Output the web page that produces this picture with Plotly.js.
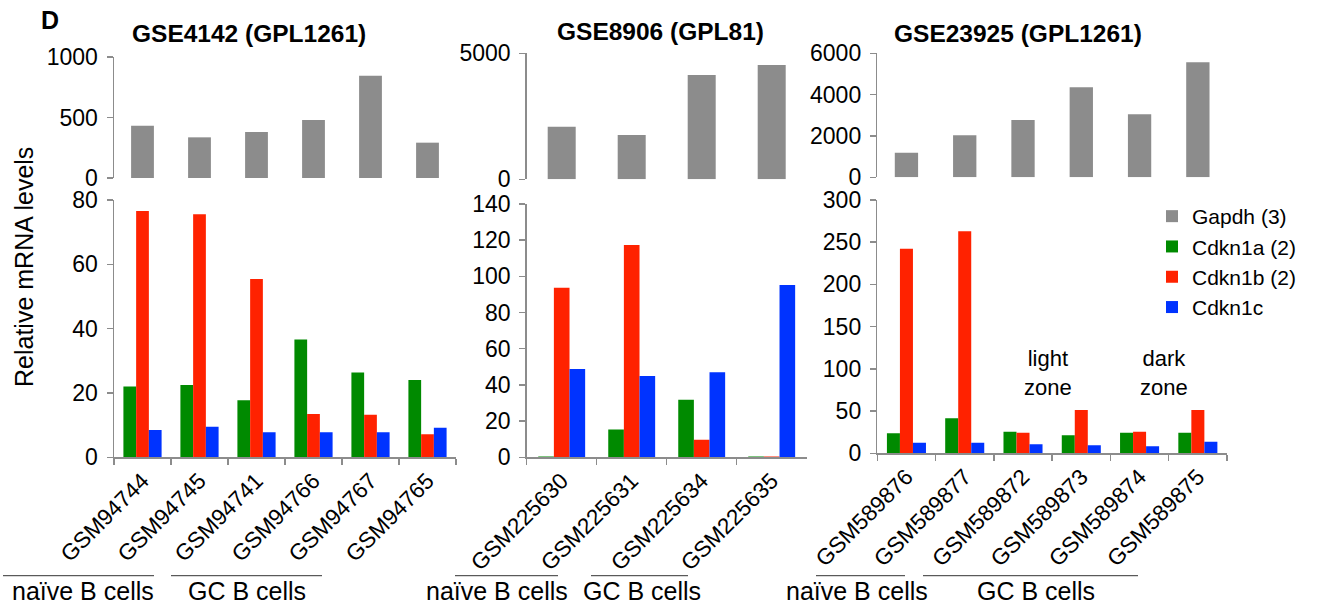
<!DOCTYPE html>
<html><head><meta charset="utf-8">
<script src="https://cdn.plot.ly/plotly-3.0.1.min.js"></script>
<style>html,body{margin:0;padding:0;background:#fff}#chart{width:1329px;height:605px}</style>
</head><body><div id="chart"></div>
<script>
// ---- data ----
var cats1 = ['GSM94744','GSM94745','GSM94741','GSM94766','GSM94767','GSM94765'];
var gapdh1 = [432, 336, 380, 479, 845, 292];
var cdkn1a_1 = [22, 22.5, 17.7, 36.6, 26.4, 24];
var cdkn1b_1 = [76.6, 75.6, 55.4, 13.5, 13.2, 7.2];
var cdkn1c_1 = [8.5, 9.5, 7.8, 7.8, 7.8, 9.2];

var cats2 = ['GSM225630','GSM225631','GSM225634','GSM225635'];
var gapdh2 = [2087, 1758, 4139, 4536];
var cdkn1a_2 = [0.4, 15.3, 31.8, 0.4];
var cdkn1b_2 = [93.7, 117.3, 9.7, 0.4];
var cdkn1c_2 = [48.8, 44.9, 47, 95.2];

var cats3 = ['GSM589876','GSM589877','GSM589872','GSM589873','GSM589874','GSM589875'];
var gapdh3 = [1190, 2032, 2773, 4355, 3048, 5565];
var cdkn1a_3 = [23.7, 41.4, 25.6, 21.3, 24.4, 24.4];
var cdkn1b_3 = [242.3, 262.9, 24.4, 51.3, 25.6, 51.3];
var cdkn1c_3 = [12.6, 12.6, 10.6, 9.5, 8.3, 13.7];

var seriesNames = ['Gapdh (3)','Cdkn1a (2)','Cdkn1b (2)','Cdkn1c'];
var panelTitles = ['GSE4142 (GPL1261)','GSE8906 (GPL81)','GSE23925 (GPL1261)'];
var groupLabels = ['naïve B cells','GC B cells'];
var zoneLabels = ['light<br>zone','dark<br>zone'];

// ---- styles ----
var colors = ['#8c8c8c','#008a00','#ff2200','#0033ff'];
var FONT = 'Liberation Sans, Arial, Helvetica, sans-serif';
var W = 1329, H = 605;
function px(x){return x/W;}
function py(y){return 1 - y/H;}

var traces = [];
var panels = [
  {cats:cats1, g:gapdh1, a:cdkn1a_1, b:cdkn1b_1, c:cdkn1c_1, xb:'x', yb:'y', xt:'x2', yt:'y2'},
  {cats:cats2, g:gapdh2, a:cdkn1a_2, b:cdkn1b_2, c:cdkn1c_2, xb:'x3', yb:'y3', xt:'x4', yt:'y4'},
  {cats:cats3, g:gapdh3, a:cdkn1a_3, b:cdkn1b_3, c:cdkn1c_3, xb:'x5', yb:'y5', xt:'x6', yt:'y6'}
];
panels.forEach(function(p, i){
  traces.push({type:'bar', x:p.cats, y:p.g, xaxis:p.xt, yaxis:p.yt, name:seriesNames[0],
    legendgroup:'g0', showlegend:i===0, width:0.4, marker:{color:colors[0], line:{width:0}}, hoverinfo:'y'});
  [p.a, p.b, p.c].forEach(function(vals, k){
    traces.push({type:'bar', x:p.cats, y:vals, xaxis:p.xb, yaxis:p.yb, name:seriesNames[k+1],
      legendgroup:'g'+(k+1), showlegend:i===0, marker:{color:colors[k+1], line:{width:0}}, hoverinfo:'y'});
  });
});

var axLine = '#8c8c8c';
function yAx(dom, range, dtick){
  return {domain:dom, range:range, dtick:dtick, showgrid:false, zeroline:false, showline:true,
    linecolor:axLine, linewidth:1.5, ticks:'outside', ticklen:6, tickcolor:axLine, tickwidth:1.5,
    ticklabelstandoff:4,
    tickfont:{family:FONT, size:23, color:'#000'}, fixedrange:true};
}
function xBot(dom, anchor){
  return {domain:dom, anchor:anchor, type:'category', showgrid:false, zeroline:false, showline:true,
    linecolor:axLine, linewidth:1.5, ticks:'outside', ticklen:6, tickcolor:axLine, tickwidth:1.5,
    tickson:'boundaries', tickangle:-45, tickfont:{family:FONT, size:22.5, color:'#000'}, fixedrange:true};
}
function xTop(dom, anchor){
  return {domain:dom, anchor:anchor, type:'category', showgrid:false, zeroline:false, showline:false,
    ticks:'', showticklabels:false, fixedrange:true};
}

var d1 = [px(114), px(456)], d2 = [px(526.7), px(806.7)], d3 = [px(877.3), px(1227)];

var annotations = [
  {text:'<b>D</b>', x:px(50.5), y:py(20), font:{size:25}},
  {text:'<b>'+panelTitles[0]+'</b>', x:px(249), y:py(33), font:{size:24.5}},
  {text:'<b>'+panelTitles[1]+'</b>', x:px(660.5), y:py(31), font:{size:24.5}},
  {text:'<b>'+panelTitles[2]+'</b>', x:px(1017.5), y:py(33), font:{size:24.5}},
  {text:'Relative mRNA levels', x:px(24), y:py(267), textangle:-90, font:{size:25}},
  {text:zoneLabels[0], x:px(1048.3), y:py(373), font:{size:22}},
  {text:zoneLabels[1], x:px(1164), y:py(373), font:{size:22}},
  {text:groupLabels[0], x:px(83), y:py(591), font:{size:25}},
  {text:groupLabels[1], x:px(246.7), y:py(591), font:{size:25}},
  {text:groupLabels[0], x:px(497), y:py(591), font:{size:25}},
  {text:groupLabels[1], x:px(641.7), y:py(591), font:{size:25}},
  {text:groupLabels[0], x:px(857), y:py(591), font:{size:25}},
  {text:groupLabels[1], x:px(1036), y:py(591), font:{size:25}}
].map(function(a){
  a.xref='paper'; a.yref='paper'; a.showarrow=false; a.xanchor='center'; a.yanchor='middle';
  a.font.family=FONT; a.font.color='#000'; return a;
});

var lineSegs = [[3,154],[171,322],[455,558],[591,688],[816,905],[923,1138]];
var shapes = lineSegs.map(function(s){
  return {type:'line', xref:'paper', yref:'paper', x0:px(s[0]), x1:px(s[1]), y0:py(575.7), y1:py(575.7),
    line:{color:'#333', width:1}};
});

var layout = {
  width:W, height:H, margin:{l:0,r:0,t:0,b:0}, paper_bgcolor:'#fff', plot_bgcolor:'rgba(0,0,0,0)',
  barmode:'group', bargap:0.33, bargroupgap:0,
  font:{family:FONT, color:'#000'},
  showlegend:true,
  legend:{x:px(1152), y:py(196), xanchor:'left', yanchor:'top', bgcolor:'rgba(0,0,0,0)',
    font:{family:FONT, size:21, color:'#000'}, tracegroupgap:0, traceorder:'grouped', itemwidth:30},
  xaxis: xBot(d1,'y'),  yaxis: yAx([py(457.3), py(200)], [0,80], 20),
  xaxis2: xTop(d1,'y2'), yaxis2: Object.assign(yAx([py(178), py(57)], [0,1000], 500), {anchor:'x2'}),
  xaxis3: xBot(d2,'y3'), yaxis3: Object.assign(yAx([py(457.3), py(204)], [0,140], 20), {anchor:'x3'}),
  xaxis4: xTop(d2,'y4'), yaxis4: Object.assign(yAx([py(179.3), py(53.3)], [0,5000], 5000), {anchor:'x4'}),
  xaxis5: xBot(d3,'y5'), yaxis5: Object.assign(yAx([py(453.3), py(200)], [0,300], 50), {anchor:'x5'}),
  xaxis6: xTop(d3,'y6'), yaxis6: Object.assign(yAx([py(177.3), py(53.3)], [0,6000], 2000), {anchor:'x6'}),
  annotations:annotations, shapes:shapes
};
layout.yaxis.anchor = 'x';

Plotly.newPlot('chart', traces, layout, {displayModeBar:false, staticPlot:true});
</script></body></html>
